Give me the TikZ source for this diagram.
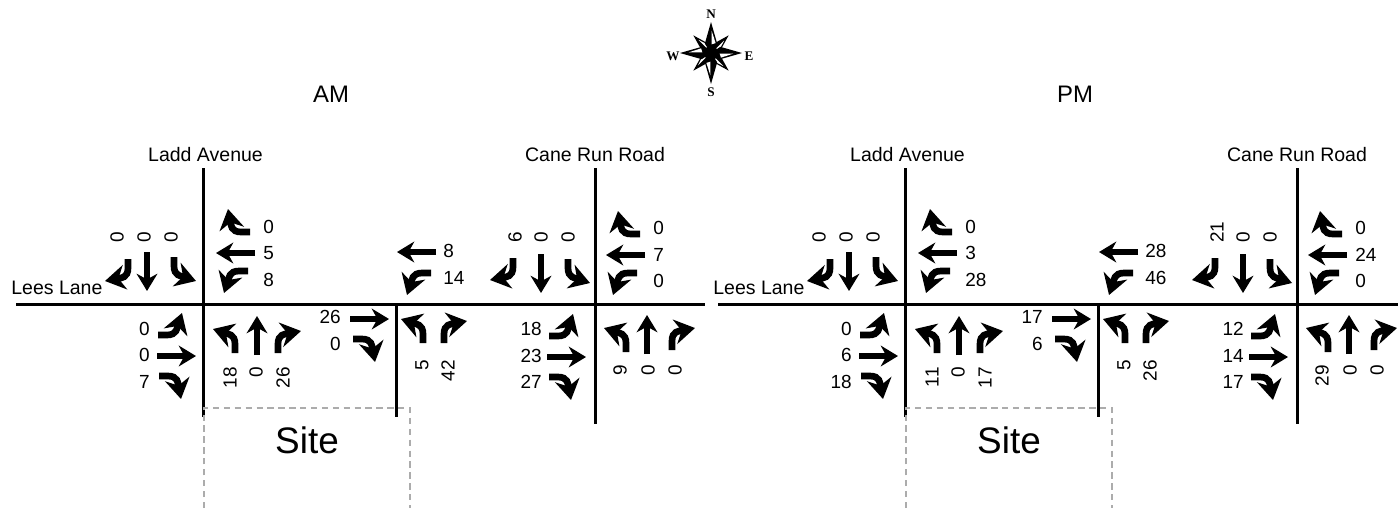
\documentclass[tikz,border=0pt]{standalone}
\usepackage{fontspec}
\setmainfont{Liberation Sans}
\newfontfamily\compassfont{Liberation Serif}
\usetikzlibrary{arrows.meta}

\tikzset{
    road/.style={line width=1.4pt, black},
    sitebound/.style={line width=0.9pt, gray!65, dash pattern=on 3.6pt off 2.6pt},
    lane/.style={-{Stealth[length=9.8pt, width=11.8pt]}, black},
    turn/.style={-{Stealth[length=11.5pt, width=14pt]}, black},
    count/.style={inner sep=0pt, font=\fontsize{10.8}{13}\selectfont},
    street/.style={inner sep=0pt, font=\fontsize{11.1}{13}\selectfont},
    compassletter/.style={inner sep=0pt, font=\compassfont\bfseries\fontsize{7.5}{8}\selectfont},
    thrulane/.pic={\draw[lane] (0,0) -- (0,-39);},
    leftlane/.pic={\draw[turn] (0,0) -- (0,-9) .. controls (0,-19) and (-7,-19) .. (-22,-24);},
    rightlane/.pic={\draw[turn] (0,0) -- (0,-9) .. controls (0,-19) and (7,-19) .. (23,-22);},
    starpoint/.pic={
        \fill[black] (0,0) -- (-0.2*#1,-0.3*#1) -- (0,-#1) -- (0.2*#1,-0.3*#1) -- cycle;
        \fill[white] (0.02*#1,-0.28*#1) -- (0.15*#1,-0.32*#1) -- (0.02*#1,-0.72*#1) -- cycle;
    }
}

\begin{document}
\begin{tikzpicture}[x=0.02cm, y=-0.02cm]
    \useasboundingbox (0,0) rectangle (1398,508);

    % compass
    \foreach \a in {45,135,225,315} {
        \pic[rotate=\a] at (711,53) {starpoint=25};
    }
    \foreach \a in {0,90,180,270} {
        \pic[rotate=\a] at (711,53) {starpoint=31};
    }
    \node[compassletter] (north) at (711,14) {N};
    \node[compassletter] (south) at (711,92) {S};
    \node[compassletter] (west) at (673,56) {W};
    \node[compassletter] (east) at (749,56) {E};

    % titles
    \node[inner sep=0pt, font=\fontsize{13.6}{16}\selectfont] (amtitle) at (331,94) {AM};
    \node[inner sep=0pt, font=\fontsize{13.6}{16}\selectfont] (pmtitle) at (1075,94) {PM};

    % roads, site and arrows repeat in both panels
    \foreach \dx/\panel/\roadend in {0/am/705, 702/pm/696} {
        \begin{scope}[shift={(\dx,0)}]
            \draw[road] (16,304.5) -- (\roadend,304.5);
            \draw[road] (203.5,168) -- (203.5,417);
            \draw[road] (396.5,304.5) -- (396.5,417);
            \draw[road] (595.5,168) -- (595.5,424);
            \draw[sitebound] (204,508) -- (204,408) -- (410,408) -- (410,508);

            \node[inner sep=0pt, font=\fontsize{21}{25}\selectfont] (\panel site) at (307,440) {Site};
            \node[street] (\panel ladd) at (205.5,155) {Ladd Avenue};
            \node[street] (\panel cane) at (595,155) {Cane Run Road};
            \node[street, anchor=west] (\panel lees) at (11,288) {Lees Lane};

            % x/y/rotation/pic/line width
            \foreach \x/\y/\r/\t/\w in {
                235/353/0/leftlane/3.8, 257/355/0/thrulane/3.8, 278/353/0/rightlane/3.8,
                128/259/180/rightlane/3.8, 147/252/180/thrulane/3.2, 174/257/180/leftlane/3.8,
                158/335/-90/leftlane/3.8, 157/356/-90/thrulane/3, 159/376/-90/rightlane/3.8,
                250/232/90/rightlane/3.8, 255/253/90/thrulane/3, 248/271/90/leftlane/3.8,
                350/319/-90/thrulane/3, 353/339/-90/rightlane/3.8,
                436/252/90/thrulane/3, 431/273/90/leftlane/3.8,
                423/343/0/leftlane/3.8, 444/343/0/rightlane/3.8,
                513/258/180/rightlane/3.8, 541/254/180/thrulane/3.2, 568/259/180/leftlane/3.8,
                640/234/90/rightlane/3.8, 645/255/90/thrulane/3, 637/273/90/leftlane/3.8,
                626/352/0/leftlane/3.8, 647/354/0/thrulane/3.8, 672/350/0/rightlane/3.8,
                549/336/-90/leftlane/3.8, 547/357/-90/thrulane/3, 549/377/-90/rightlane/3.8%
            } {
                \pic[rotate=\r, line width=\w pt] at (\x,\y) {\t};
            }
        \end{scope}
    }

    % counts: x/y/rotation/anchor/AM/PM
    \foreach \x/\y/\r/\a/\am/\pm [count=\n] in {
        117/243/90/west/0/0, 144/243/90/west/0/0, 171/243/90/west/0/0,
        263/227/0/west/0/0, 263/253/0/west/5/3, 263/280/0/west/8/28,
        150/329/0/east/0/0, 150/355/0/east/0/6, 150/382/0/east/7/18,
        230/367/90/east/18/11, 256/367/90/east/0/0, 283/367/90/east/26/17,
        341/317/0/east/26/17, 341/344/0/east/0/6,
        443/251/0/west/8/28, 443/278/0/west/14/46,
        422/360/90/east/5/5, 448/360/90/east/42/26,
        515/243/90/west/6/21, 541/243/90/west/0/0, 568/243/90/west/0/0,
        653/228/0/west/0/0, 653/255/0/west/7/24, 653/281/0/west/0/0,
        542/329/0/east/18/12, 542/356/0/east/23/14, 542/382/0/east/27/17,
        620/365/90/east/9/29, 648/365/90/east/0/0, 675/365/90/east/0/0%
    } {
        \node[count, rotate=\r, anchor=\a] (am\n) at (\x,\y) {\am};
        \node[count, rotate=\r, anchor=\a] (pm\n) at (\x+702,\y) {\pm};
    }
\end{tikzpicture}
\end{document}
